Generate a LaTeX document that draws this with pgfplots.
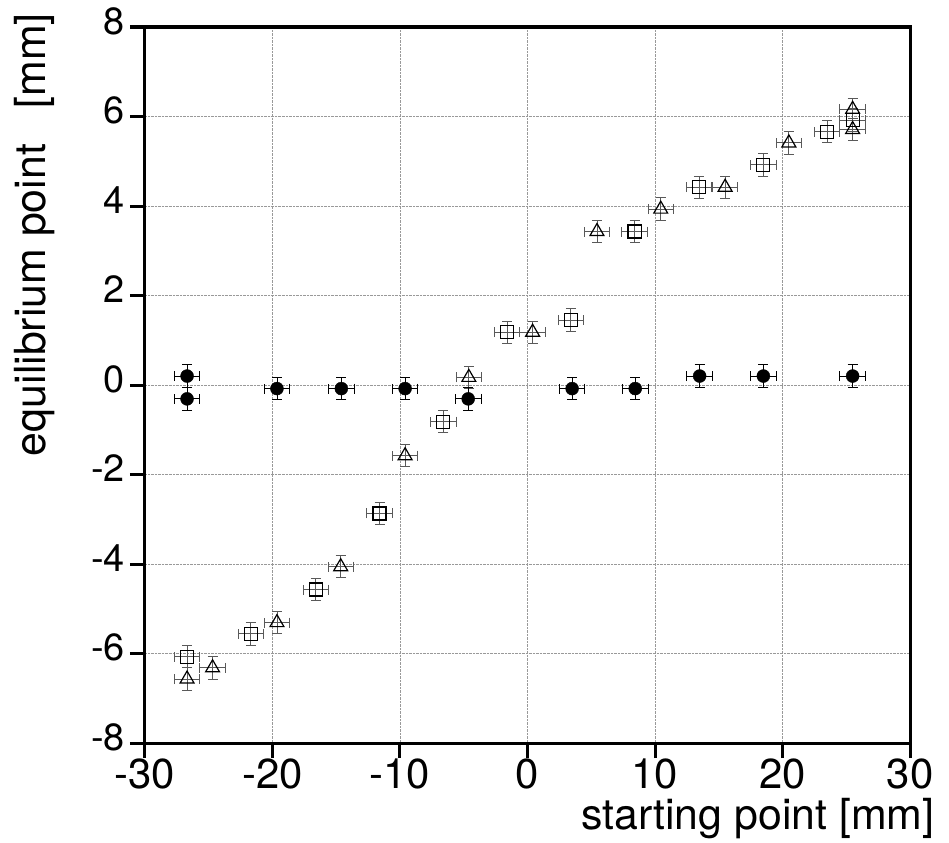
\documentclass[border=0pt]{standalone}
\usepackage{pgfplots}
\pgfplotsset{compat=1.18}
\usepackage{fontspec}
\setmainfont{TeX Gyre Heros}
\begin{document}
\begin{tikzpicture}
\path[use as bounding box] (-145bp,-100bp) rectangle (804bp,743bp);
\begin{axis}[
  scale only axis, width=765bp, height=716bp,
  xmin=-30, xmax=30, ymin=-8, ymax=8,
  xtick={-30,-20,-10,0,10,20,30},
  xticklabels={-30,-20,-10,0,10,20,30},
  ytick={-8,-6,-4,-2,0,2,4,6,8},
  yticklabels={-8,-6,-4,-2,0,2,4,6,8},
  axis line style={line width=3bp},
  tick style={line width=3bp, black},
  tick align=outside, tick pos=left,
  major tick length=15bp,
  grid=major,
  major grid style={densely dotted, gray!80, line width=0.6bp},
  xticklabel style={font=\fontsize{42}{42}\selectfont, inner sep=1bp},
  yticklabel style={font=\fontsize{38}{38}\selectfont, inner sep=1bp, yshift=6bp, xshift=-4bp},
  xlabel={starting point [mm]},
  ylabel={equilibrium point \ \ [mm]},
  xlabel style={font=\fontsize{43}{43}\selectfont, at={(axis description cs:0.801,-0.105)}, anchor=center, inner sep=0pt},
  ylabel style={font=\fontsize{43}{43}\selectfont, at={(axis description cs:-0.144,0.71)}, anchor=center, inner sep=0pt},
  clip=false,
]
% squares
\addplot+[only marks, mark=square, mark size=6.5bp, black, mark options={line width=1.2bp, fill=white},
  error bars/.cd, x dir=both, x explicit, y dir=both, y explicit,
  error bar style={gray!70!black, line width=0.9bp},
  error mark options={rotate=90, mark size=5bp, line width=0.9bp, gray!70!black}]
 coordinates {
 (-26.7,-6.07) +- (1.0,0.25)
 (-21.7,-5.56) +- (1.0,0.25)
 (-16.6,-4.57) +- (1.0,0.25)
 (-11.6,-2.87) +- (1.0,0.25)
 (-6.6,-0.82) +- (1.0,0.25)
 (-1.6,1.18) +- (1.0,0.25)
 (3.4,1.45) +- (1.0,0.25)
 (8.4,3.43) +- (1.0,0.25)
 (13.45,4.42) +- (1.0,0.25)
 (18.5,4.92) +- (1.0,0.25)
 (23.5,5.66) +- (1.0,0.25)
 (25.5,5.92) +- (1.0,0.25)
 };
% triangles
\addplot+[only marks, mark=triangle, mark size=8bp, black, mark options={line width=1.2bp, fill=white},
  error bars/.cd, x dir=both, x explicit, y dir=both, y explicit,
  error bar style={gray!70!black, line width=0.9bp},
  error mark options={rotate=90, mark size=5bp, line width=0.9bp, gray!70!black}]
 coordinates {
 (-26.7,-6.57) +- (1.0,0.25)
 (-24.7,-6.32) +- (1.0,0.25)
 (-19.65,-5.31) +- (1.0,0.25)
 (-14.65,-4.06) +- (1.0,0.25)
 (-9.6,-1.58) +- (1.0,0.25)
 (-4.6,0.17) +- (1.0,0.25)
 (0.4,1.18) +- (1.0,0.25)
 (5.45,3.43) +- (1.0,0.25)
 (10.45,3.93) +- (1.0,0.25)
 (15.5,4.42) +- (1.0,0.25)
 (20.5,5.41) +- (1.0,0.25)
 (25.5,6.16) +- (1.0,0.25)
 (25.5,5.71) +- (1.0,0.25)
 };
% filled circles
\addplot+[only marks, mark=*, mark size=6.5bp, black, mark options={fill=black},
  error bars/.cd, x dir=both, x explicit, y dir=both, y explicit,
  error bar style={black, line width=0.9bp},
  error mark options={rotate=90, mark size=5bp, line width=0.9bp, black}]
 coordinates {
 (-26.7,0.20) +- (1.0,0.25)
 (-26.7,-0.31) +- (1.0,0.25)
 (-19.65,-0.08) +- (1.0,0.25)
 (-14.6,-0.08) +- (1.0,0.25)
 (-9.6,-0.08) +- (1.0,0.25)
 (-4.65,-0.31) +- (1.0,0.25)
 (3.5,-0.08) +- (1.0,0.25)
 (8.45,-0.08) +- (1.0,0.25)
 (13.5,0.20) +- (1.0,0.25)
 (18.5,0.20) +- (1.0,0.25)
 (25.5,0.20) +- (1.0,0.25)
 };
\end{axis}
\end{tikzpicture}
\end{document}
